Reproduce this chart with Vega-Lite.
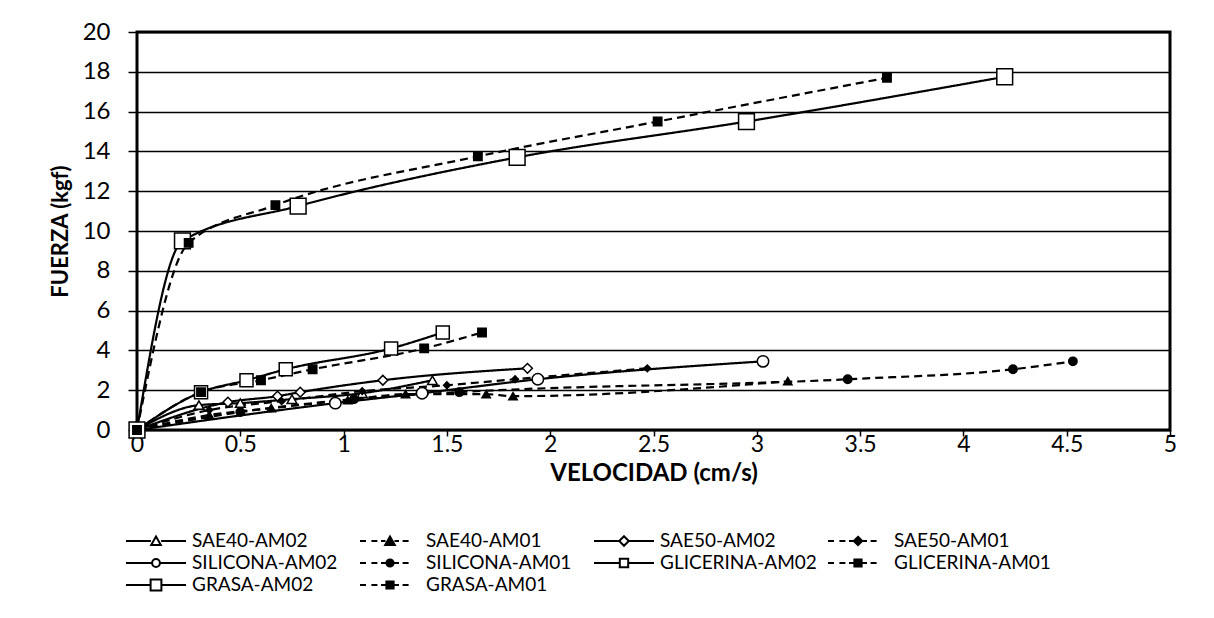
{
  "$schema": "https://vega.github.io/schema/vega-lite/v6.json",
  "width": 1033,
  "height": 398,
  "autosize": {"type": "none"},
  "padding": {"left": 137, "top": 32, "right": 44, "bottom": 188},
  "background": "white",
  "config": {
    "view": {"stroke": "black", "strokeWidth": 3},
    "font": "Lato",
    "axis": {"labelFont": "Lato", "labelColor": "black", "titleFont": "Lato", "titleColor": "black", "titleFontWeight": "bold", "tickColor": "black", "domain": false}
  },
  "data": {
    "values": [
      {"s": "SAE40-AM02", "v": 0, "f": 0},
      {"s": "SAE40-AM02", "v": 0.3, "f": 1.25},
      {"s": "SAE40-AM02", "v": 0.5, "f": 1.35},
      {"s": "SAE40-AM02", "v": 0.75, "f": 1.55},
      {"s": "SAE40-AM02", "v": 1.09, "f": 1.85},
      {"s": "SAE40-AM02", "v": 1.43, "f": 2.5},
      {"s": "SAE40-AM01", "v": 0, "f": 0},
      {"s": "SAE40-AM01", "v": 0.35, "f": 0.75},
      {"s": "SAE40-AM01", "v": 0.65, "f": 1.1},
      {"s": "SAE40-AM01", "v": 1.02, "f": 1.5},
      {"s": "SAE40-AM01", "v": 1.3, "f": 1.8},
      {"s": "SAE40-AM01", "v": 1.69, "f": 1.8},
      {"s": "SAE40-AM01", "v": 1.82, "f": 1.7},
      {"s": "SAE40-AM01", "v": 3.15, "f": 2.45},
      {"s": "SAE50-AM02", "v": 0, "f": 0},
      {"s": "SAE50-AM02", "v": 0.44, "f": 1.4},
      {"s": "SAE50-AM02", "v": 0.68, "f": 1.7},
      {"s": "SAE50-AM02", "v": 0.79, "f": 1.9},
      {"s": "SAE50-AM02", "v": 1.19, "f": 2.5},
      {"s": "SAE50-AM02", "v": 1.89, "f": 3.1},
      {"s": "SAE50-AM01", "v": 0, "f": 0},
      {"s": "SAE50-AM01", "v": 0.35, "f": 1.0},
      {"s": "SAE50-AM01", "v": 0.7, "f": 1.45},
      {"s": "SAE50-AM01", "v": 1.09, "f": 1.95},
      {"s": "SAE50-AM01", "v": 1.5, "f": 2.25},
      {"s": "SAE50-AM01", "v": 1.83, "f": 2.55},
      {"s": "SAE50-AM01", "v": 2.47, "f": 3.1},
      {"s": "SILICONA-AM02", "v": 0, "f": 0},
      {"s": "SILICONA-AM02", "v": 0.96, "f": 1.35},
      {"s": "SILICONA-AM02", "v": 1.38, "f": 1.85},
      {"s": "SILICONA-AM02", "v": 1.94, "f": 2.55},
      {"s": "SILICONA-AM02", "v": 3.03, "f": 3.45},
      {"s": "SILICONA-AM01", "v": 0, "f": 0},
      {"s": "SILICONA-AM01", "v": 0.5, "f": 0.9},
      {"s": "SILICONA-AM01", "v": 1.05, "f": 1.55},
      {"s": "SILICONA-AM01", "v": 1.56, "f": 1.9},
      {"s": "SILICONA-AM01", "v": 3.44, "f": 2.55},
      {"s": "SILICONA-AM01", "v": 4.24, "f": 3.05},
      {"s": "SILICONA-AM01", "v": 4.53, "f": 3.45},
      {"s": "GLICERINA-AM02", "v": 0, "f": 0},
      {"s": "GLICERINA-AM02", "v": 0.31, "f": 1.9},
      {"s": "GLICERINA-AM02", "v": 0.53, "f": 2.5},
      {"s": "GLICERINA-AM02", "v": 0.72, "f": 3.05},
      {"s": "GLICERINA-AM02", "v": 1.23, "f": 4.1},
      {"s": "GLICERINA-AM02", "v": 1.48, "f": 4.9},
      {"s": "GLICERINA-AM01", "v": 0, "f": 0},
      {"s": "GLICERINA-AM01", "v": 0.31, "f": 1.9},
      {"s": "GLICERINA-AM01", "v": 0.6, "f": 2.5},
      {"s": "GLICERINA-AM01", "v": 0.85, "f": 3.05},
      {"s": "GLICERINA-AM01", "v": 1.39, "f": 4.1},
      {"s": "GLICERINA-AM01", "v": 1.67, "f": 4.9},
      {"s": "GRASA-AM02", "v": 0, "f": 0},
      {"s": "GRASA-AM02", "v": 0.22, "f": 9.5},
      {"s": "GRASA-AM02", "v": 0.78, "f": 11.25},
      {"s": "GRASA-AM02", "v": 1.84, "f": 13.7},
      {"s": "GRASA-AM02", "v": 2.95, "f": 15.5},
      {"s": "GRASA-AM02", "v": 4.2, "f": 17.75},
      {"s": "GRASA-AM01", "v": 0, "f": 0},
      {"s": "GRASA-AM01", "v": 0.25, "f": 9.4},
      {"s": "GRASA-AM01", "v": 0.67, "f": 11.3},
      {"s": "GRASA-AM01", "v": 1.65, "f": 13.75},
      {"s": "GRASA-AM01", "v": 2.52, "f": 15.5},
      {"s": "GRASA-AM01", "v": 3.63, "f": 17.7}
    ]
  },
  "encoding": {
    "x": {
      "field": "v", "type": "quantitative",
      "scale": {"domain": [0, 5], "nice": false, "zero": false},
      "axis": {"title": "VELOCIDAD (cm/s)", "values": [0, 0.5, 1, 1.5, 2, 2.5, 3, 3.5, 4, 4.5, 5], "format": "~g", "grid": false, "labelFontSize": 23, "titleFontSize": 24, "tickSize": 6, "tickWidth": 1.5, "labelPadding": -3, "titlePadding": 5, "labelFlush": false}
    },
    "y": {
      "field": "f", "type": "quantitative",
      "scale": {"domain": [0, 20], "nice": false},
      "axis": {"title": "FUERZA (kgf)", "values": [0, 2, 4, 6, 8, 10, 12, 14, 16, 18, 20], "grid": true, "gridColor": "black", "gridWidth": 1.5, "labelFontSize": 24, "titleFontSize": 22, "tickSize": 9, "tickWidth": 1.5, "labelPadding": 18, "titlePadding": 10}
    }
  },
  "layer": [
    {
      "mark": {"type": "line", "color": "black", "strokeWidth": 2.2, "interpolate": "monotone"},
      "encoding": {
        "detail": {"field": "s", "type": "nominal"},
        "strokeDash": {"condition": {"test": "indexof(datum.s, 'AM01') >= 0", "value": [8, 5]}, "value": [1, 0]}
      }
    },
    {
      "mark": {"type": "point", "filled": true, "stroke": "black", "strokeWidth": 1.5, "opacity": 1},
      "encoding": {
        "detail": {"field": "s", "type": "nominal"},
        "shape": {"condition": [
          {"test": "indexof(datum.s, 'SAE40') === 0", "value": "triangle-up"},
          {"test": "indexof(datum.s, 'SAE50') === 0", "value": "diamond"},
          {"test": "indexof(datum.s, 'SILICONA') === 0", "value": "circle"}
        ], "value": "square"},
        "fill": {"condition": {"test": "indexof(datum.s, 'AM01') >= 0", "value": "black"}, "value": "white"},
        "size": {"condition": [
          {"test": "datum.s === 'GRASA-AM02'", "value": 250},
          {"test": "datum.s === 'GLICERINA-AM02'", "value": 170},
          {"test": "datum.s === 'SILICONA-AM02'", "value": 130},
          {"test": "datum.s === 'SAE50-AM01'", "value": 45},
          {"test": "indexof(datum.s, 'AM01') >= 0", "value": 70}
        ], "value": 95}
      }
    },
    {
      "transform": [{"filter": "datum.v < 0"}],
      "mark": {"type": "point", "filled": true, "stroke": "black", "strokeWidth": 2},
      "encoding": {
        "shape": {
          "field": "s", "type": "nominal",
          "scale": {
            "domain": ["SAE40-AM02", "SAE40-AM01", "SAE50-AM02", "SAE50-AM01", "SILICONA-AM02", "SILICONA-AM01", "GLICERINA-AM02", "GLICERINA-AM01", "GRASA-AM02", "GRASA-AM01"],
            "range": [
              "M-1,0H-0.17M0.17,0H1M0,-0.15L0.16,0.13H-0.16Z",
              "M-1,0H-0.8M-0.62,0H-0.42M-0.3,0H-0.15M0.15,0H0.3M0.42,0H0.62M0,-0.15L0.16,0.13H-0.16Z",
              "M-1,0H-0.17M0.17,0H1M0,-0.16L0.16,0L0,0.16L-0.16,0Z",
              "M-1,0H-0.8M-0.62,0H-0.42M-0.3,0H-0.14M0.14,0H0.3M0.42,0H0.62M0,-0.14L0.14,0L0,0.14L-0.14,0Z",
              "M-1,0H-0.14M0.14,0H1M-0.13,0A0.13,0.13,0,1,1,0.13,0A0.13,0.13,0,1,1,-0.13,0Z",
              "M-1,0H-0.8M-0.62,0H-0.42M-0.3,0H-0.12M0.12,0H0.3M0.42,0H0.62M-0.12,0A0.12,0.12,0,1,1,0.12,0A0.12,0.12,0,1,1,-0.12,0Z",
              "M-1,0H-0.14M0.14,0H1M-0.14,-0.14H0.14V0.14H-0.14Z",
              "M-1,0H-0.8M-0.62,0H-0.42M-0.3,0H-0.12M0.12,0H0.3M0.42,0H0.62M-0.12,-0.12H0.12V0.12H-0.12Z",
              "M-1,0H-0.18M0.18,0H1M-0.18,-0.18H0.18V0.18H-0.18Z",
              "M-1,0H-0.8M-0.62,0H-0.42M-0.3,0H-0.12M0.12,0H0.3M0.42,0H0.62M-0.12,-0.12H0.12V0.12H-0.12Z"
            ]
          },
          "legend": {
            "orient": "none", "direction": "horizontal", "legendX": -12, "legendY": 499, "columns": 4, "title": null,
            "labelFont": "Lato", "labelFontSize": 19, "labelColor": "black", "labelOffset": 5, "labelLimit": 400,
            "symbolSize": 3600, "symbolStrokeWidth": 2, "symbolStrokeColor": "black", "symbolOpacity": 1,
            "clipHeight": 20, "rowPadding": 2, "columnPadding": 10, "gridAlign": "all", "padding": 0
          }
        },
        "fill": {
          "field": "s", "type": "nominal",
          "scale": {
            "domain": ["SAE40-AM02", "SAE40-AM01", "SAE50-AM02", "SAE50-AM01", "SILICONA-AM02", "SILICONA-AM01", "GLICERINA-AM02", "GLICERINA-AM01", "GRASA-AM02", "GRASA-AM01"],
            "range": ["white", "black", "white", "black", "white", "black", "white", "black", "white", "black"]
          }
        },
        "stroke": {
          "field": "s", "type": "nominal",
          "scale": {
            "domain": ["SAE40-AM02", "SAE40-AM01", "SAE50-AM02", "SAE50-AM01", "SILICONA-AM02", "SILICONA-AM01", "GLICERINA-AM02", "GLICERINA-AM01", "GRASA-AM02", "GRASA-AM01"],
            "range": ["black", "black", "black", "black", "black", "black", "black", "black", "black", "black"]
          }
        }
      }
    }
  ]
}
